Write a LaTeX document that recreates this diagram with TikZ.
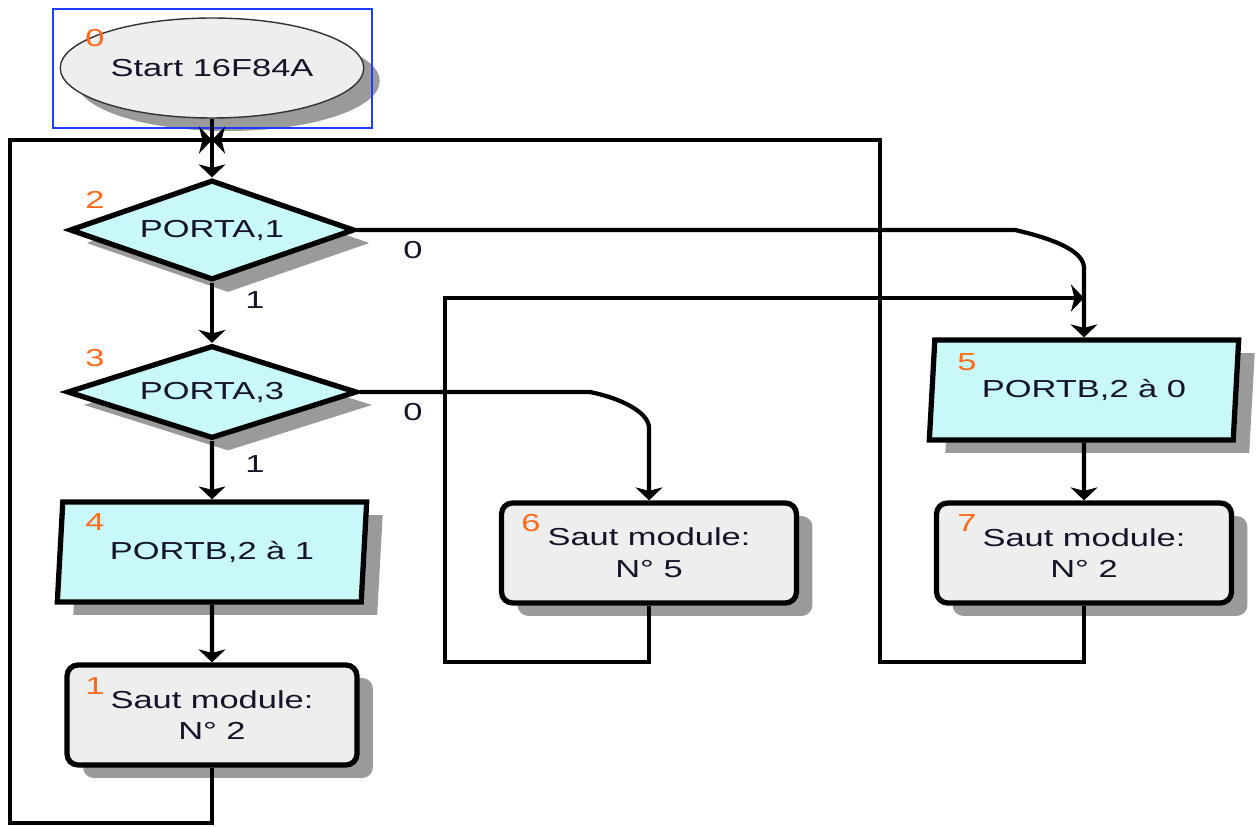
\documentclass[tikz,border=0pt]{standalone}
\usepackage{fontspec}
\setmainfont[FakeStretch=1.4]{Liberation Sans}
\usetikzlibrary{shapes.geometric,shadows,arrows.meta}
\definecolor{cyanfill}{HTML}{C8F8F8}
\definecolor{grayfill}{HTML}{EEEEEE}
\definecolor{shadcol}{HTML}{9A9A9A}
\definecolor{numor}{HTML}{FF6A1A}
\definecolor{txt}{HTML}{141428}
\definecolor{selblue}{HTML}{1E3CFF}
\begin{document}
\begin{tikzpicture}[x=0.02cm,y=-0.02cm,
 font=\fontsize{14}{18}\selectfont, text=txt,
 shad/.style={drop shadow={shadow xshift=0.32cm,shadow yshift=-0.26cm,fill=shadcol,opacity=1}},
 dec/.style={diamond, aspect=2.85, draw=black, line width=3pt, fill=cyanfill, shad, inner sep=0pt, minimum width=5.7cm, minimum height=2cm},
 io/.style={trapezium, trapezium left angle=80, trapezium right angle=100, trapezium stretches=true, draw=black, line width=3pt, fill=cyanfill, shad, minimum width=6.2cm, minimum height=2cm, inner sep=0pt},
 sub/.style={rectangle, rounded corners=0.22cm, draw=black, line width=3pt, fill=grayfill, shad, minimum width=5.9cm, minimum height=2cm, align=center, inner sep=0pt},
 term/.style={ellipse, draw=black!80, line width=0.8pt, fill=grayfill, shad, minimum width=5.8cm, minimum height=2cm},
 num/.style={text=numor, inner sep=0pt},
 lab/.style={inner sep=0pt},
 conn/.style={line width=2.4pt, draw=black},
 arr/.style={conn, -{Stealth[length=0.26cm 0, width=0.54cm 0, inset=0.07cm]}},
]
\useasboundingbox (0,0) rectangle (1260,827);

% nodes
\node[term] (s) at (212,68) {Start 16F84A};
\draw[selblue, line width=1.5pt] (53,9) rectangle (372,128);
\node[dec] (d2) at (212,230) {PORTA,1};
\node[dec, minimum width=5.8cm, minimum height=1.86cm] (d3) at (212,392) {PORTA,3};
\node[io] (p4) at (212,552) {PORTB,2 à 1};
\node[sub, minimum width=5.8cm] (b1) at (212,715) {Saut module:\\N° 2};
\node[sub] (b6) at (649,553) {Saut module:\\N° 5};
\node[io] (p5) at (1084,390) {PORTB,2 à 0};
\node[sub] (b7) at (1084,553) {Saut module:\\N° 2};

% step numbers
\node[num] (n0) at (95,38) {0};
\node[num] (n2) at (95,200) {2};
\node[num] (n3) at (95,358) {3};
\node[num] (n4) at (95,522) {4};
\node[num] (n1) at (95,686) {1};
\node[num] (n6) at (531,523) {6};
\node[num] (n5) at (967,362) {5};
\node[num] (n7) at (967,523) {7};

% branch labels
\node[lab] (o2) at (413,250) {0};
\node[lab] (i2) at (255,300) {1};
\node[lab] (o3) at (413,412) {0};
\node[lab] (i3) at (255,464) {1};

% routing points
\coordinate (m) at (212,140);
\coordinate (bl) at (10,823);
\coordinate (br) at (880,662);
\coordinate (bm) at (445,662);
\coordinate (j5) at (1084,298);
\coordinate (c2a) at (1015,230);
\coordinate (c2b) at (1084,268);
\coordinate (c3a) at (590,392);
\coordinate (c3b) at (649,428);

% connectors
\draw[conn] (s.south) -- (m);
\draw[arr] (m) -- (d2.north);
\draw[arr] (b1.south) |- (bl) |- (m);
\draw[arr] (b7.south) |- (br) |- (m);
\draw[arr] (d2.south) -- (d3.north);
\draw[arr] (d3.south) -- (p4.north);
\draw[arr] (p4.south) -- (b1.north);
\draw[arr] (p5.south) -- (b7.north);
\draw[arr] (d2.east) -- (c2a) .. controls (1050,238) and (1084,250) .. (c2b) -- (p5.north);
\draw[arr] (d3.east) -- (c3a) .. controls (620,398) and (649,412) .. (c3b) -- (b6.north);
\draw[arr] (b6.south) |- (bm) |- (j5);
\end{tikzpicture}
\end{document}
